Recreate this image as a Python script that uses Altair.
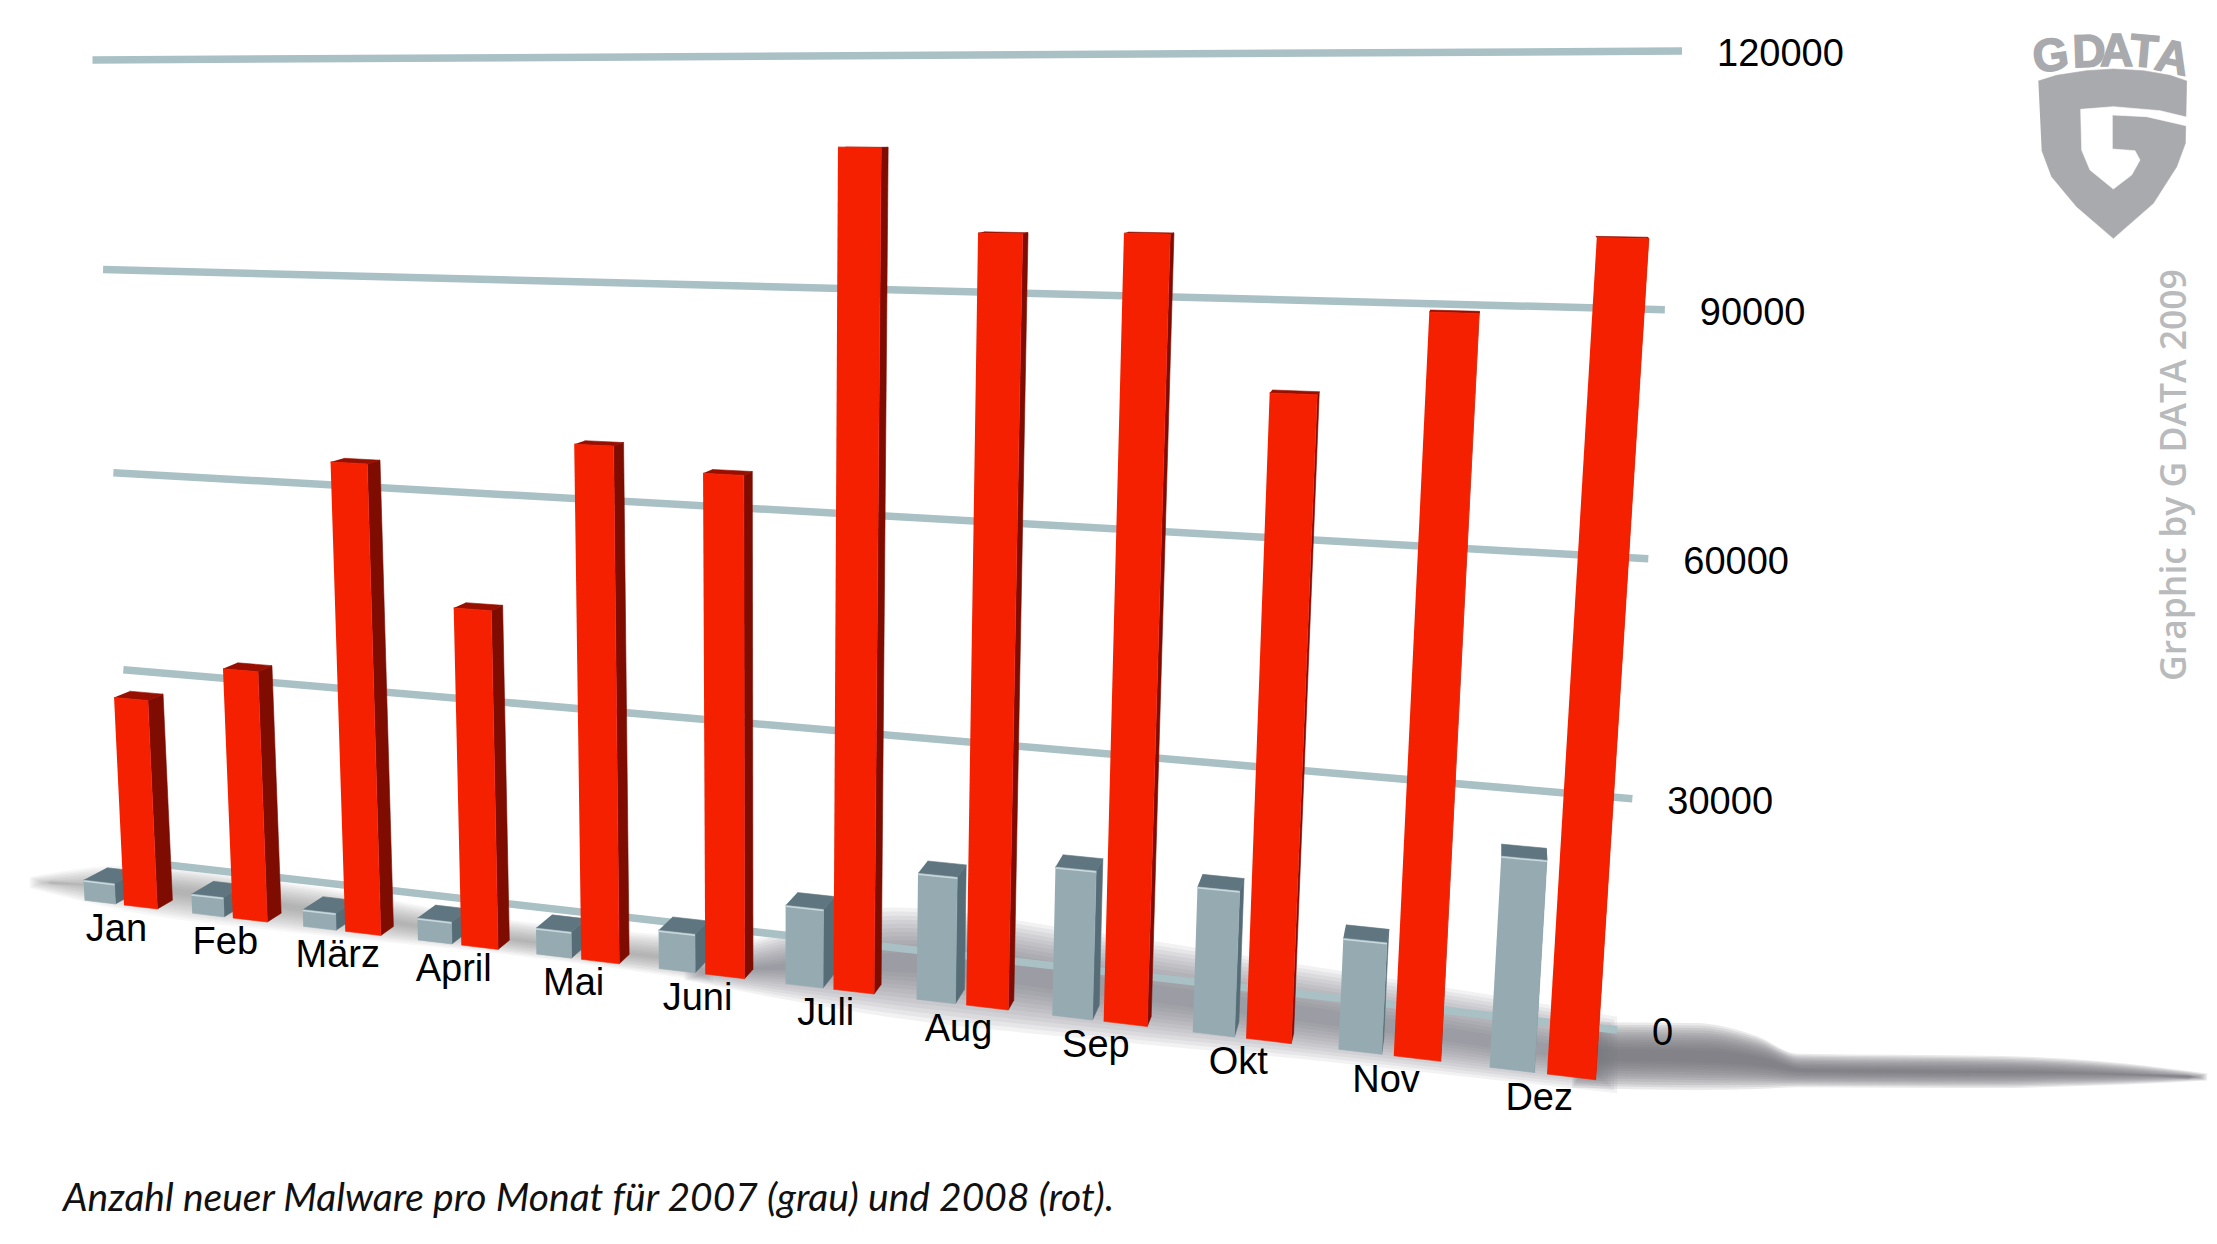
import altair as alt
import numpy as np
import pandas as pd

months = ["Jan","Feb","März","April","Mai","Juni","Juli","Aug","Sep","Okt","Nov","Dez"]
malware_2008 = [31200,36800,67200,48000,71300,68300,110300,100000,100300,81600,91800,100800]
malware_2007 = [3100,2900,2500,3200,3750,5450,10900,17200,19900,19150,14450,26800]
grid_values = [0,30000,60000,90000,120000]
caption = "Anzahl neuer Malware pro Monat für 2007 (grau) und 2008 (rot)."
credit = "Graphic by G DATA 2009"

def homography(bl, br, tl, tr):
    src = [(0,0),(1,0),(0,1),(1,1)]
    dst = [bl, br, tl, tr]
    A, b = [], []
    for (u,v),(x,y) in zip(src,dst):
        A.append([u,v,1,0,0,0,-u*x,-v*x]); b.append(x)
        A.append([0,0,0,u,v,1,-u*y,-v*y]); b.append(y)
    h = np.linalg.solve(np.array(A,float), np.array(b,float))
    return np.append(h,1).reshape(3,3)

H_bars = homography((124,905),(1547,1074),(84,70),(1607,66))
H_grid = homography((133,861),(1617,1030),(92.5,60),(1682,51))
VP = np.array([1500.0,130.0])

def project(H, u, v):
    p = H @ np.array([u, v, 1.0])
    return np.array([p[0]/p[2], p[1]/p[2]])

def bar_pt(i, value, depth=0.0):
    p = project(H_bars, i/11, value/120000)
    return p + depth*(VP-p)

def faces(values, left, right, depth):
    front, side, cap, edge = [], [], [], []
    for k, val in enumerate(values):
        i0, i1 = k+left, k+right
        polys = {
            "front":[bar_pt(i0,0),bar_pt(i1,0),bar_pt(i1,val),bar_pt(i0,val)],
            "side":[bar_pt(i1,0),bar_pt(i1,0,depth),bar_pt(i1,val,depth),bar_pt(i1,val)],
            "cap":[bar_pt(i0,val),bar_pt(i1,val),bar_pt(i1,val,depth),bar_pt(i0,val,depth)],
        }
        for name,target in (("front",front),("side",side),("cap",cap)):
            for o,pt in enumerate(polys[name]):
                target.append(dict(poly=k,o=o,X=pt[0],Y=pt[1]))
        a,b = bar_pt(i0,val),bar_pt(i1,val)
        edge.append(dict(X=a[0],Y=a[1]+1,X2=b[0],Y2=b[1]+1))
    return tuple(pd.DataFrame(t) for t in (front,side,cap,edge))

W,H = 2201,1228
xs = alt.Scale(domain=[8,2209],nice=False,zero=False)
ys = alt.Scale(domain=[1236,8],nice=False,zero=False)
X = alt.X("X:Q",scale=xs,axis=None)
Y = alt.Y("Y:Q",scale=ys,axis=None)

def polygon(df,color,opacity=1):
    return alt.Chart(df).mark_line(fill=color,stroke=color,strokeWidth=0.6,opacity=opacity,interpolate="linear").encode(
        x=X,y=Y,detail="poly:N",order="o:Q")

layers=[]
# floor shadows, built from nested soft bands
def shadow(xv,top,bot,color,op,hi=1.6,n=12):
    out=[]
    xv,top,bot=map(lambda a:np.array(a,float),(xv,top,bot))
    c=(top+bot)/2; h=(bot-top)/2; xc=xv.mean()
    for s in np.linspace(hi,0.4,n):
        df=pd.DataFrame(dict(X=xc+(xv-xc)*(1+(s-1)*0.06),Y=c-h*s-(s-1)*5,Y2=c+h*s+(s-1)*5))
        out.append(alt.Chart(df).mark_area(color=color,opacity=op,interpolate="monotone",clip=True).encode(
            x=X,y=Y,y2="Y2:Q"))
    return out
layers+=shadow([1580,1700,1760,1800,2000,2060,2120,2200],[1033,1034,1045,1060,1062,1064,1068,1076],[1077,1079,1080,1081,1082,1081,1080,1078],"#6f6f74",0.146,hi=1.4)
layers+=shadow([40,130,300,500,700],[881,876,895,928,948],[884,900,922,946,972],"#77777b",0.06)
layers+=shadow([700,800,900,1100,1300,1480,1600],[968,945,930,955,985,1013,1033],[975,985,995,1018,1040,1062,1077],"#77777b",0.095)

# grid lines
grid=[]
for v in grid_values:
    a=project(H_grid,0,v/120000); b=project(H_grid,1,v/120000)
    grid.append(dict(value=str(v),X=a[0],Y=a[1],X2=b[0],Y2=b[1]))
grid=pd.DataFrame(grid)
layers.append(alt.Chart(grid).mark_rule(color="#a9c0c5",strokeWidth=7.5).encode(x=X,y=Y,x2="X2:Q",y2="Y2:Q"))
layers.append(alt.Chart(grid).mark_text(font="Liberation Sans",fontSize=38,align="left",baseline="middle",dx=35,dy=4,color="#000").encode(
    x=alt.X("X2:Q",scale=xs,axis=None),y=alt.Y("Y2:Q",scale=ys,axis=None),text="value:N"))

# bars
gf,gs,gc,ge=faces(malware_2007,-0.37,-0.08,0.0165)
rf,rs,rc,re_=faces(malware_2008,0.0,0.31,0.0112)
layers+=[polygon(gs,"#566d77"),polygon(gc,"#5f7680"),polygon(gf,"#96aab2")]
layers.append(alt.Chart(ge).mark_rule(color="#c9d8dc",strokeWidth=1.5).encode(x=X,y=Y,x2="X2:Q",y2="Y2:Q"))
layers+=[polygon(rs,"#7f0c00"),polygon(rc,"#960f00"),polygon(rf,"#f42000")]

# month labels
lab=[]
for k,m in enumerate(months):
    p=bar_pt(k-0.05-0.02*(11-k)/11,0)
    lab.append(dict(m=m,X=p[0],Y=p[1]))
layers.append(alt.Chart(pd.DataFrame(lab)).mark_text(font="Liberation Sans",fontSize=38,baseline="middle",dy=26,color="#000").encode(x=X,y=Y,text="m:N"))

# caption and credit
layers.append(alt.Chart(pd.DataFrame(dict(t=[caption],X=[63],Y=[1199]))).mark_text(font="Lato",fontStyle="italic",fontSize=39,align="left",baseline="middle",color="#111").encode(x=X,y=Y,text="t:N"))
layers.append(alt.Chart(pd.DataFrame(dict(t=[credit],X=[2175],Y=[475]))).mark_text(font="Open Sans",fontWeight=600,fontSize=35.5,angle=270,baseline="middle",color="#b8babc").encode(x=X,y=Y,text="t:N"))

# logo
def lg(points,name):
    return pd.DataFrame([dict(poly=name,o=o,X=1980+x/3,Y=y/3) for o,(x,y) in enumerate(points)])
shield=lg([(175,243),(230,226),(320,212),(400,207),(490,212),(570,226),(620,243),(616,430),(590,500),(520,610),(400,715),(290,620),(215,530),(185,450)],"s")
cut=lg([(622,352),(540,332),(400,320),(302,328),(305,450),(330,510),(400,567),(455,525),(480,480),(465,452),(397,447),(397,345),(500,350),(622,378)],"c")
layers+=[polygon(shield,"#a9aaad"),polygon(cut,"#ffffff")]
letters=pd.DataFrame(dict(t=list("GDATA"),X=[1980+x/3 for x in (212,327,410,492,577)],Y=[y/3 for y in (170,158,156,158,176)],a=[352,358,0,5,12]))
for _,r in letters.iterrows():
    layers.append(alt.Chart(pd.DataFrame([r.to_dict()])).mark_text(font="Liberation Sans",fontWeight="bold",fontSize=46,baseline="middle",angle=float(r.a),color="#a9aaad",stroke="#a9aaad",strokeWidth=1.5).encode(x=X,y=Y,text="t:N"))

chart=alt.layer(*layers).properties(width=W,height=H,padding=0,autosize="none",background="white").configure_view(stroke=None)
chart.save("out.html",embed_options={"renderer":"svg","actions":False})
